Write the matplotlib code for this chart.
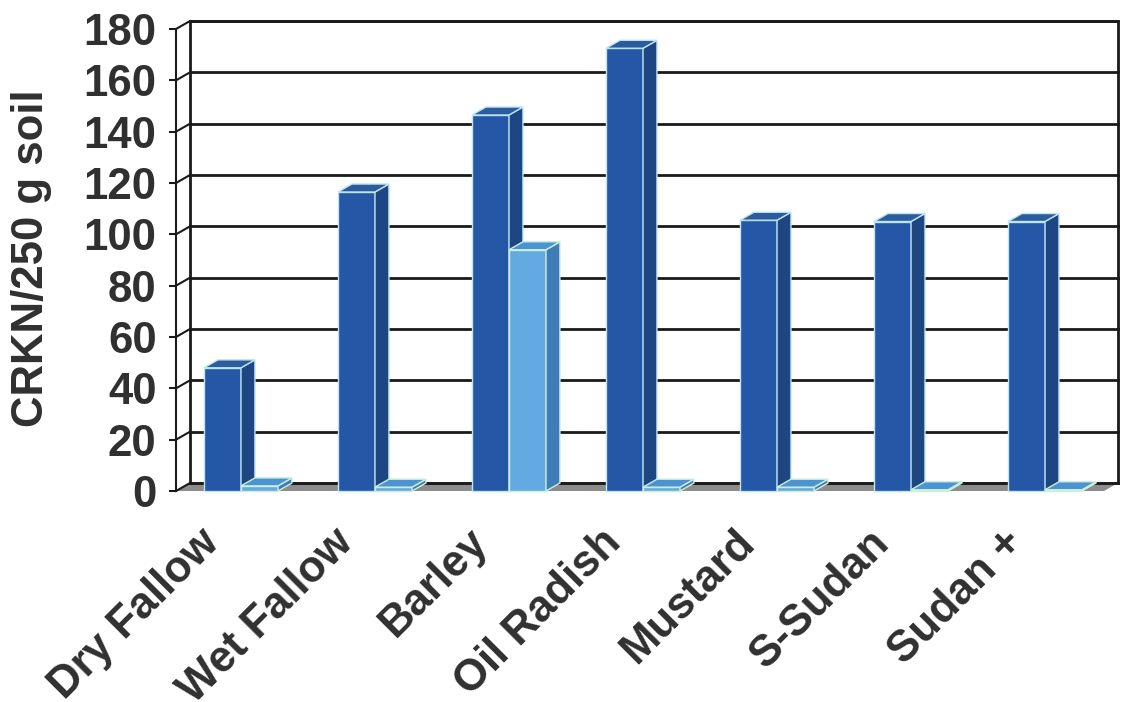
import matplotlib.pyplot as plt
from matplotlib.patches import Polygon

# data
crops = ['Dry Fallow', 'Wet Fallow', 'Barley', 'Oil Radish', 'Mustard', 'S-Sudan', 'Sudan +']
dark_vals = [48, 116.5, 146.5, 172.5, 105.5, 105, 105]
light_vals = [2, 1.5, 94, 1.5, 1.5, 0.5, 0.5]
yticks = [0, 20, 40, 60, 80, 100, 120, 140, 160, 180]

# fake 3d depth, in data units
dx = 0.104
dy = 3.1
bw = 0.276
xmin, xmax = -0.485, 6.44
ymax = 180

txt_col = '#303030'
fsize = 31.5
plt.rcParams['font.family'] = ['Liberation Sans', 'DejaVu Sans']

fig = plt.figure(figsize=(11.25, 7.02), dpi=100)
ax = fig.add_axes([176 / 1125, 1 - 491 / 702, (1104 - 176) / 1125, (491 - 29) / 702])
ax.set_xlim(xmin, xmax)
ax.set_ylim(0, ymax)


def poly(pts, fc, ec='none', lw=0.0, z=1):
    ax.add_patch(Polygon(pts, closed=True, facecolor=fc, edgecolor=ec, linewidth=lw,
                         zorder=z, clip_on=False, joinstyle='miter'))


# back wall outline
ax.plot([xmin + dx, xmin + dx, xmax + dx, xmax + dx], [dy, ymax + dy, ymax + dy, dy],
        color='#1a1a1a', lw=2, clip_on=False, zorder=2)

# gridlines on the back wall + diagonals on the side wall
for t in yticks:
    ax.plot([xmin + dx, xmax + dx], [t + dy, t + dy], color='#1a1a1a', lw=2,
            clip_on=False, zorder=2)
    ax.plot([xmin, xmin + dx], [t, t + dy], color='#1a1a1a', lw=1.5,
            clip_on=False, zorder=2)

# floor
poly([(xmin, 0), (xmin + dx, dy), (xmax + dx, dy), (xmax, 0)], '#8c8c8c', z=1.5)
ax.plot([xmin + dx, xmax + dx], [dy, dy], color='#333333', lw=2, clip_on=False, zorder=1.6)


def bar3d(x0, h, front, side, top, edge, z):
    poly([(x0, 0), (x0 + bw, 0), (x0 + bw, h), (x0, h)], front, edge, 1.0, z)
    poly([(x0 + bw, 0), (x0 + bw + dx, dy), (x0 + bw + dx, h + dy), (x0 + bw, h)],
         side, edge, 1.0, z)
    poly([(x0, h), (x0 + dx, h + dy), (x0 + bw + dx, h + dy), (x0 + bw, h)],
         top, edge, 1.0, z)


for i in range(len(crops)):
    bar3d(i - bw, dark_vals[i], '#2457a6', '#1d4682', '#2b5c9e', '#bfe4f4', 3 + i * 0.1)
    bar3d(i, light_vals[i], '#64aae2', '#3f7db8', '#4a94d4', '#cdeed8', 3.05 + i * 0.1)

# front axis line and ticks
for s in ['top', 'right', 'bottom']:
    ax.spines[s].set_visible(False)
ax.spines['left'].set_color('#1a1a1a')
ax.spines['left'].set_linewidth(1.5)
ax.set_xticks([])
ax.set_yticks(yticks)
ax.tick_params(axis='y', length=5, width=1.5, color='#1a1a1a', pad=9,
               labelsize=fsize, labelcolor=txt_col)
for lab in ax.get_yticklabels():
    lab.set_fontweight('bold')

# category labels
for i, name in enumerate(crops):
    ax.text(i - 0.32, -12, name, rotation=45, rotation_mode='anchor', ha='right',
            va='top', fontsize=fsize, fontweight='bold', color=txt_col, clip_on=False)

fig.text(32 / 1125, 1 - 258 / 702, 'CRKN/250 g soil', rotation=90, ha='center',
         va='center', fontsize=fsize, fontweight='bold', color=txt_col)

fig.savefig('out.png', dpi=100, facecolor='white')
